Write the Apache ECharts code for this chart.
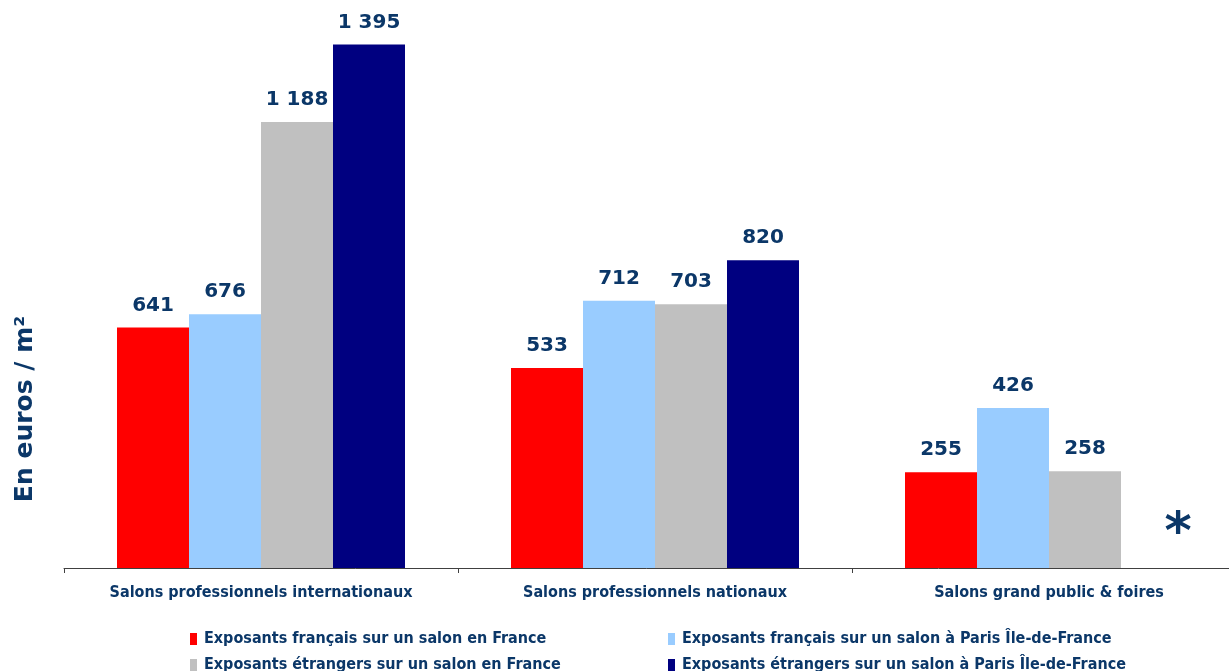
<!DOCTYPE html>
<html>
<head>
<meta charset="utf-8">
<script src="https://cdn.jsdelivr.net/npm/echarts@6/dist/echarts.min.js"></script>
<style>
  html, body { margin: 0; padding: 0; background: #fff; }
  #chart { width: 1229px; height: 671px; }
</style>
</head>
<body>
<div id="chart"></div>
<script>
  // categories and values (euros / m²)
  var categories = ['Salons professionnels internationaux', 'Salons professionnels nationaux', 'Salons grand public & foires']
  var seriesNames = [
    'Exposants français sur un salon en France',
    'Exposants français sur un salon à Paris Île-de-France',
    'Exposants étrangers sur un salon en France',
    'Exposants étrangers sur un salon à Paris Île-de-France'
  ]
  var frFrance = [641, 533, 255]
  var frParis = [676, 712, 426]
  var etFrance = [1188, 703, 258]
  var etParis = [1395, 820, null] // pas de donnée : astérisque
  var colors = ['#ff0000', '#99ccff', '#c0c0c0', '#000080']
  var textColor = '#0b3768'

  var chart = echarts.init(document.getElementById('chart'))

  function fmt(v) {
    return String(v).replace(/\B(?=(\d{3})+(?!\d))/g, ' ')
  }

  function makeSeries(name, data, idx) {
    return {
      name: name,
      type: 'bar',
      barWidth: 72,
      barGap: '0%',
      itemStyle: { color: colors[idx] },
      label: {
        show: true,
        position: 'top',
        distance: 12,
        color: textColor,
        fontFamily: 'DejaVu Sans',
        fontWeight: 'bold',
        fontSize: 20,
        formatter: function (p) { return fmt(p.value) }
      },
      data: data.map(function (v) {
        if (v === null) {
          return {
            value: 0,
            label: {
              formatter: '*', fontSize: 52, distance: 0, offset: [21, -8]
            }
          }
        }
        return v
      }),
      animation: false
    }
  }

  var legendPos = [[185, 626], [663, 626], [185, 652], [663, 652]]

  chart.setOption({
    grid: { left: 64, width: 1182, top: 5, bottom: 103, outerBoundsMode: 'none', containLabel: false },
    graphic: [{
      type: 'text',
      x: 25,
      y: 409,
      rotation: Math.PI / 2,
      style: {
        text: 'En euros / m²',
        fill: textColor,
        font: 'bold 25px "DejaVu Sans"',
        textAlign: 'center',
        textVerticalAlign: 'middle'
      }
    }],
    legend: seriesNames.map(function (n, i) {
      return {
        data: [n],
        left: legendPos[i][0],
        top: legendPos[i][1],
        icon: 'rect',
        itemWidth: 7,
        itemHeight: 12,
        itemGap: 4,
        textStyle: {
          color: textColor,
          fontFamily: 'DejaVu Sans Condensed',
          fontWeight: 'bold',
          fontSize: 16,
          padding: [0, 0, 0, 2]
        },
        selectedMode: false
      }
    }),
    xAxis: {
      type: 'category',
      data: categories,
      axisLine: { lineStyle: { color: '#404040', width: 1 } },
      axisTick: { show: true, length: 5, lineStyle: { color: '#404040' } },
      axisLabel: {
        interval: 0,
        color: textColor,
        fontFamily: 'DejaVu Sans Condensed',
        fontWeight: 'bold',
        fontSize: 16,
        margin: 17
      }
    },
    yAxis: {
      type: 'value',
      min: 0,
      max: 1500,
      axisLine: { show: false },
      axisTick: { show: false },
      axisLabel: { show: false },
      splitLine: { show: false }
    },
    series: [
      makeSeries(seriesNames[0], frFrance, 0),
      makeSeries(seriesNames[1], frParis, 1),
      makeSeries(seriesNames[2], etFrance, 2),
      makeSeries(seriesNames[3], etParis, 3)
    ]
  })
</script>
</body>
</html>
